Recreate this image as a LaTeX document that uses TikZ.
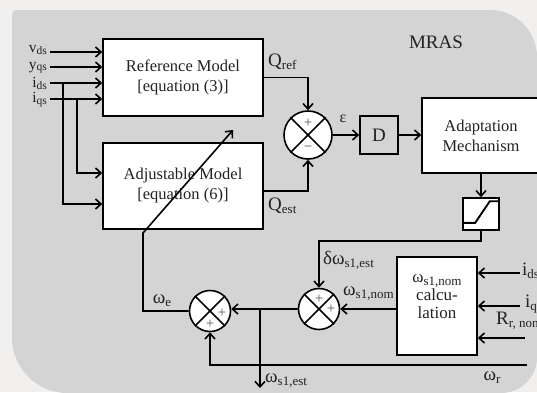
\documentclass[tikz,border=0pt]{standalone}
\usepackage{fontspec}
\setmainfont{Liberation Serif}
\usetikzlibrary{arrows.meta,calc}
\definecolor{bggray}{HTML}{D4D4D4}
\definecolor{outerbg}{HTML}{F2F0EE}
\definecolor{signc}{HTML}{555555}
\definecolor{txt}{HTML}{222222}
\newcommand\sbs[1]{\raisebox{-0.35ex}{\fontsize{13}{13}\selectfont #1}}
\newcommand\sbi[1]{\raisebox{-0.2ex}{\fontsize{11.5}{11}\selectfont #1}}
\begin{document}
\begin{tikzpicture}[x=1pt,y=-1pt,
  ln/.style={line width=1.6pt},
  arr/.style={ln,-{Straight Barb[length=5.5pt,width=10pt,line width=1.6pt]}},
  blk/.style={draw,line width=1.6pt,fill=white,inner sep=0pt,text=txt,font=\fontsize{16.5}{20}\selectfont,align=center},
  sumj/.style={draw,circle,line width=1.6pt,fill=white,minimum size=#1,inner sep=0pt},
  lbl/.style={inner sep=0pt,text=txt,font=\fontsize{19}{20}\selectfont},
  inl/.style={inner sep=0pt,text=txt,font=\fontsize{15.5}{16}\selectfont},
  sgn/.style={inner sep=0pt,text=signc,font=\fontsize{15}{15}\selectfont}]
\useasboundingbox (0,0) rectangle (537,392);
\clip (0,0) rectangle (537,392);
\fill[outerbg] (0,0) rectangle (537,392);
\fill[bggray] (12,14) .. controls (12,12) and (14,10) .. (16,10) -- (490,10)
  .. controls (516,10) and (537,31) .. (537,57) -- (537,357)
  .. controls (537,377) and (521,393) .. (501,393) -- (67,393)
  .. controls (37,393) and (12,368) .. (12,338) -- cycle;

% blocks
\node[blk,minimum width=160pt,minimum height=77pt] (ref) at (183,77.5) {Reference Model\\{}[equation (3)]};
\node[blk,minimum width=160pt,minimum height=86pt] (adj) at (183,186) {Adjustable Model\\{}[equation (6)]};
\node[sumj=48pt] (s1) at (308,135) {};
\node[draw,ln,minimum size=38pt,inner sep=0pt,text=txt,font=\fontsize{19}{20}\selectfont] (D) at (379,135) {D};
\node[blk,minimum width=118pt,minimum height=75pt] (ad) at (481,135.5) {Adaptation\\Mechanism};
\node[draw,ln,fill=white,minimum width=36pt,minimum height=32pt,inner sep=0pt] (sat) at (481,214) {};
\draw[line width=1.9pt] ($(sat.south west)+(0,-8)$) -- ++(13,0) -- ($(sat.north east)+(-10,4)$) -- ($(sat.north east)+(0,4)$);
\node[sumj=41pt] (s2) at (319,309) {};
\node[blk,minimum width=80pt,minimum height=98pt] (calc) at (437,306) {};
\node[align=center,inner sep=0pt,text=txt,font=\fontsize{17}{18}\selectfont] (ctx) at (437,297) {ω\sbs{s1,nom}\\calcu-\\lation};
\node[sumj=41pt] (s3) at (210,311) {};

\foreach \s in {s1,s2,s3} {
  \draw[ln] (\s.north west) -- (\s.south east);
  \draw[ln] (\s.north east) -- (\s.south west);
}
\node[sgn] (p1) at ($(s1)+(0,-12)$) {+};
\node[sgn] (m1) at ($(s1)+(0,14)$) {−};
\node[sgn] (p2a) at ($(s2)+(0,-10)$) {+};
\node[sgn] (p2b) at ($(s2)+(12,0)$) {+};
\node[sgn] (p3a) at ($(s3)+(12,2)$) {+};
\node[sgn] (p3b) at ($(s3)+(0,13)$) {+};

% inputs
\coordinate (pv) at (50,52);
\coordinate (py) at (50,67);
\coordinate (pid) at (50,83);
\coordinate (piq) at (50,99);
\node[inl,anchor=east] (lv) at ($(pv)+(-3,-2)$) {v\sbi{ds}};
\node[inl,anchor=east] (ly) at ($(py)+(-3,0.5)$) {y\sbi{qs}};
\node[inl,anchor=east] (lid1) at ($(pid)+(-3,0.5)$) {i\sbi{ds}};
\node[inl,anchor=east] (liq1) at ($(piq)+(-3,0.5)$) {i\sbi{qs}};
\draw[arr] (pv) -- (pv -| ref.west);
\draw[arr] (py) -- (py -| ref.west);
\draw[arr] (pid) -- (pid -| ref.west);
\draw[arr] (piq) -- (piq -| ref.west);
\coordinate (bd) at (63,83);
\coordinate (bq) at (77,99);
\draw[arr] (bd) |- ($(adj.west)+(0,18)$);
\draw[arr] (bq) |- ($(adj.west)+(0,-13)$);

% main loop
\draw[arr] (ref.east) -| (s1.north);
\draw[arr] ($(adj.east)+(0,5)$) -| (s1.south);
\draw[arr] (s1.east) -- (D.west);
\draw[arr] (D.east) -- (D.east -| ad.west);
\draw[arr] (ad.south) -- (sat.north);
\draw[arr] (sat.south) -- ++(0,10) -| (s2.north);
\draw[arr] (calc.west |- s2.east) -- (s2.east);
\draw[arr] (s2.west) -- (s2.west -| s3.east);
\coordinate (j) at (260,309);
\coordinate (jo) at (260,388);
\draw[arr] (j) -- (jo);
\coordinate (wr) at (527,365);
\draw[arr] (wr) -| (s3.south);
\coordinate (k1) at (143,233);
\coordinate (tip) at (233,130);
\draw[arr] (s3.west) -| (k1) -- (tip);
\coordinate (c1) at (520,273);
\coordinate (c2) at (520,306);
\coordinate (c3) at (525,338);
\draw[arr] (c1) -- (c1 -| calc.east);
\draw[arr] (c2) -- (c2 -| calc.east);
\draw[arr] (c3) -- (c3 -| calc.east);

% labels
\node[lbl,anchor=west] (lqref) at (268,62) {Q\sbs{ref}};
\node[lbl,anchor=west] (lqest) at (268,206) {Q\sbs{est}};
\node[lbl,font=\fontsize{16}{16}\selectfont] (leps) at (343,119) {ε};
\node[lbl,anchor=west] (ldw) at (323,260) {δω\sbs{s1,est}};
\node[lbl,anchor=west] (lwn) at (343,294) {ω\sbs{s1,nom}};
\node[lbl] (lwe) at (162,301) {ω\sbs{e}};
\node[lbl,anchor=west] (lwse) at (265,381) {ω\sbs{s1,est}};
\node[lbl] (lwr) at (492,378) {ω\sbs{r}};
\node[lbl,anchor=west] (lid) at (522,271) {i\sbs{ds}};
\node[lbl,anchor=west] (liq) at (525,304) {i\sbs{qs}};
\node[lbl,anchor=west] (lrr) at (496,321) {R\sbs{r, nom}};
\node[lbl,font=\fontsize{19}{20}\selectfont] (mras) at (436,42) {MRAS};
\end{tikzpicture}
\end{document}
